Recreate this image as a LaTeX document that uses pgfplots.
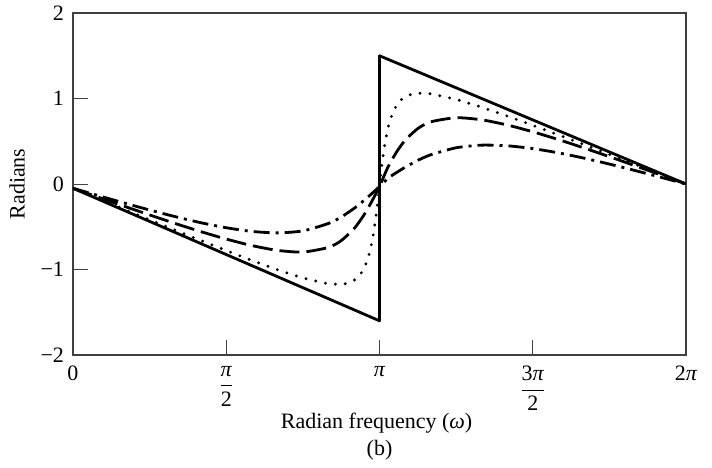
\documentclass[border=0pt]{standalone}
\usepackage{fontspec}
\setmainfont{Liberation Serif}
\usepackage{pgfplots}
\pgfplotsset{compat=1.18}
\pgfplotstableread{
w y
0 -0.050
0.2618 -0.1730
0.5236 -0.2959
0.7854 -0.4180
1.0472 -0.5399
1.3090 -0.6601
1.5708 -0.7781
1.8326 -0.8931
2.0944 -1.0025
2.3562 -1.1001
2.6180 -1.1680
2.7489 -1.1750
2.8100 -1.1629
2.8798 -1.1280
2.9234 -1.0866
2.9671 -1.0206
3.0107 -0.9128
3.0369 -0.8166
3.0543 -0.7344
3.0718 -0.6333
3.0892 -0.5108
3.1067 -0.3681
3.1241 -0.2045
3.1416 -0.0300
3.1590 0.1622
3.1765 0.3142
3.1940 0.4469
3.2114 0.5607
3.2289 0.6545
3.2463 0.7309
3.2725 0.8203
3.3161 0.9202
3.3598 0.9813
3.4034 1.0196
3.4732 1.0516
3.5343 1.0625
3.6652 1.0553
3.9270 0.9905
4.1888 0.8982
4.4506 0.7950
4.7124 0.6864
4.9742 0.5751
5.2360 0.4618
5.4978 0.3469
5.7596 0.2318
6.0214 0.1160
6.2832 0.0000
}\dotted
\pgfplotstableread{
w y
0 -0.050
0.2618 -0.1551
0.5236 -0.2594
0.7854 -0.3619
1.0472 -0.4616
1.3090 -0.5564
1.5708 -0.6440
1.8326 -0.7201
2.0944 -0.7762
2.3562 -0.7962
2.6180 -0.7419
2.7489 -0.6625
2.8798 -0.5235
2.9671 -0.3888
3.0107 -0.3084
3.0543 -0.2209
3.0979 -0.1271
3.1416 -0.0300
3.2289 0.1989
3.3161 0.3735
3.4034 0.5104
3.5343 0.6488
3.6652 0.7267
3.9270 0.7754
4.1888 0.7508
4.4506 0.6903
4.7124 0.6107
4.9742 0.5200
5.2360 0.4219
5.4978 0.3197
5.7596 0.2145
6.0214 0.1077
6.2832 0.0000
}\dashed
\pgfplotstableread{
w y
0 -0.050
0.2618 -0.1365
0.5236 -0.2218
0.7854 -0.3041
1.0472 -0.3818
1.3090 -0.4524
1.5708 -0.5115
1.8326 -0.5545
2.0944 -0.5717
2.3562 -0.5486
2.6180 -0.4617
2.7489 -0.3864
2.8798 -0.2862
2.9671 -0.2071
3.0543 -0.1209
3.1416 -0.0300
3.2289 0.0682
3.3161 0.1340
3.4034 0.1956
3.5343 0.2765
3.6652 0.3413
3.9270 0.4239
4.1888 0.4545
4.4506 0.4472
4.7124 0.4145
4.9742 0.3646
5.2360 0.3028
5.4978 0.2330
5.7596 0.1580
6.0214 0.0797
6.2832 0.0000
}\dashdot
\begin{document}
\begin{tikzpicture}[font=\fontsize{11}{13}\selectfont]
\begin{axis}[
  at={(0,0)}, anchor=south west,
  scale only axis, width=306.5pt, height=171pt,
  xmin=0, xmax=6.2832, ymin=-2, ymax=2,
  axis line style={black!75, line width=0.8pt},
  tick style={black!75, line width=0.5pt},
  tick align=inside,
  xtick pos=bottom, ytick pos=left,
  major tick length=7.5pt,
  xtick={0,1.5708,3.1416,4.7124,6.2832},
  xticklabels={0, {$\displaystyle\frac{\mbox{\itshape π}}{\mbox{2}}$}, {\itshape π}, {$\displaystyle\frac{\mbox{3\itshape π}}{\mbox{2}}$}, {2\itshape π}},
  ytick={-2,-1,0,1,2},
  yticklabels={−2,−1,0,1,2},
  yticklabel style={xshift=-1pt},
  xticklabel style={anchor=north, yshift=-2pt},
]
\addplot[black, line width=1.4pt, line join=round] coordinates {(0,-0.05) (3.1416,-1.60) (3.1416,1.50) (6.2832,0)};
\addplot[black, line width=1.6pt, line cap=round, dash pattern=on 0pt off 5pt] table[x=w,y=y] {\dotted};
\addplot[black, line width=1.4pt, smooth, tension=0.4, dash pattern=on 10pt off 3.5pt] table[x=w,y=y] {\dashed};
\addplot[black, line width=1.4pt, smooth, tension=0.4, dash pattern=on 8pt off 3pt on 1.5pt off 3pt] table[x=w,y=y] {\dashdot};
\end{axis}
\node[rotate=90] at (-28pt,85.5pt) {Radians};
\node[anchor=base] at (151.8pt,-36.5pt) {Radian frequency (\textit{ω})};
\node[anchor=base] at (153.25pt,-50pt) {(b)};
\pgfresetboundingbox
\path (-36.5pt,-56pt) rectangle (319.5pt,177.5pt);
\end{tikzpicture}
\end{document}
